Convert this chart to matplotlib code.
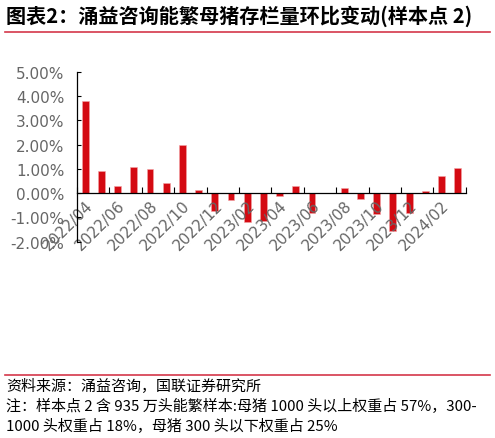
import matplotlib
matplotlib.use("Agg")
import matplotlib.pyplot as plt
from matplotlib.lines import Line2D
import numpy as np

plt.rcParams['font.family'] = ['Noto Sans CJK SC', 'DejaVu Sans']

# monthly change, %
months = ["2022/04", "2022/05", "2022/06", "2022/07", "2022/08", "2022/09",
          "2022/10", "2022/11", "2022/12", "2023/01", "2023/02", "2023/03",
          "2023/04", "2023/05", "2023/06", "2023/07", "2023/08", "2023/09",
          "2023/10", "2023/11", "2023/12", "2024/01", "2024/02", "2024/03"]
changes = [3.81, 0.90, 0.31, 1.07, 0.99, 0.41, 1.99, 0.12, -0.74, -0.28,
           -1.18, -1.14, -0.10, 0.31, -0.81, 0.02, 0.20, -0.23, -0.84, -1.58,
           -0.82, 0.07, 0.72, 1.03]
yticks = [-2, -1, 0, 1, 2, 3, 4, 5]

title = "图表2：涌益咨询能繁母猪存栏量环比变动(样本点 2)"
source = "资料来源：涌益咨询，国联证券研究所"
note1 = "注：样本点 2 含 935 万头能繁样本:母猪 1000 头以上权重占 57%，300-"
note2 = "1000 头权重占 18%，母猪 300 头以下权重占 25%"

red = "#d40a12"
grey = "#666666"

fig = plt.figure(figsize=(4.95, 4.39), dpi=100)
ax = fig.add_axes([0.1556, 0.4472, 0.7854, 0.3872])

x = np.arange(len(months)) + 0.5
ax.bar(x, changes, width=0.42, color=red, edgecolor="#f3a3a6", linewidth=0.4)

ax.set_xlim(0, len(months))
ax.set_ylim(-2, 5)
ax.set_yticks(yticks)
ax.set_yticklabels([f"{v:.2f}%" for v in yticks], color=grey, fontsize=11,
                   family="DejaVu Sans")
ax.tick_params(axis="y", direction="in", length=3, width=0.8, pad=9)

ax.spines["bottom"].set_position(("data", 0))
for s in ["top", "right"]:
    ax.spines[s].set_visible(False)
ax.spines["left"].set_linewidth(0.9)
ax.spines["bottom"].set_linewidth(0.9)

ax.set_xticks(np.arange(0, len(months) + 1, 2))
ax.set_xticklabels([])
ax.tick_params(axis="x", which="major", direction="in", length=4, width=0.8)
ax.set_xticks(x[::2], minor=True)
ax.set_xticklabels(months[::2], minor=True, rotation=45, ha="right",
                   rotation_mode="anchor", color=grey, fontsize=11,
                   family="DejaVu Sans")
ax.tick_params(axis="x", which="minor", length=0, pad=3)

fig.text(0.012, 0.962, title, fontsize=14.5, fontweight="bold", va="center",
         ha="left")
fig.add_artist(Line2D([0.01, 0.99], [0.924, 0.924], color="#d4374a", lw=1.2))
fig.add_artist(Line2D([0.01, 0.99], [0.144, 0.144], color="#d4374a", lw=1.2))

fig.text(0.012, 0.119, source, fontsize=10.8, va="center", ha="left")
fig.text(0.012, 0.074, note1, fontsize=10.8, va="center", ha="left")
fig.text(0.012, 0.030, note2, fontsize=10.8, va="center", ha="left")

fig.savefig("out.png", dpi=100)
